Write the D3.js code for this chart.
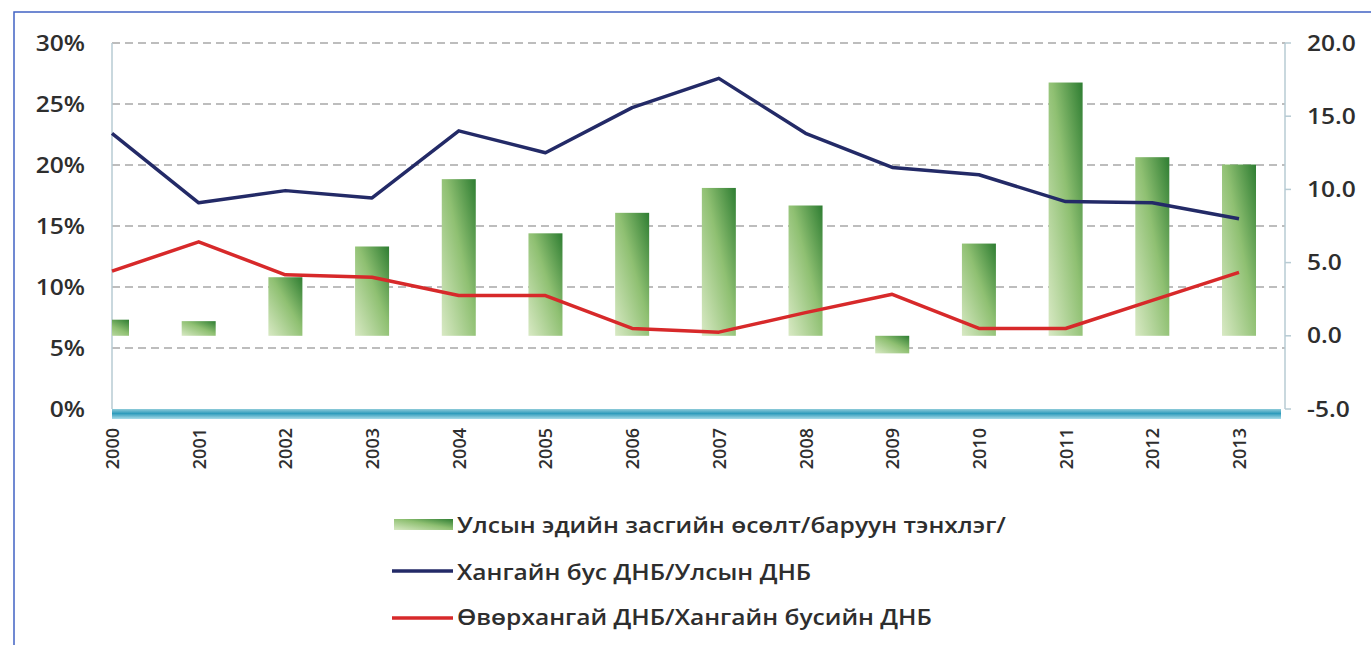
<!DOCTYPE html>
<html>
<head>
<meta charset="utf-8">
<script src="https://cdn.jsdelivr.net/npm/d3@7"></script>
<style>
  body { margin: 0; background: #fff; }
  svg text { font-family: "Open Sans", sans-serif; fill: #2e2e2e; }
</style>
</head>
<body>
<svg width="1371" height="645"></svg>
<script>
const years = ["2000","2001","2002","2003","2004","2005","2006","2007","2008","2009","2010","2011","2012","2013"];
// bars, right axis
const growth = [1.1, 1.0, 4.0, 6.1, 10.7, 7.0, 8.4, 10.1, 8.9, -1.2, 6.3, 17.3, 12.2, 11.7];
// lines, left axis (%)
const nonMiningShare = [22.6, 16.9, 17.9, 17.3, 22.8, 21.0, 24.7, 27.1, 22.6, 19.8, 19.2, 17.0, 16.9, 15.6];
const ovorShare = [11.3, 13.7, 11.0, 10.8, 9.3, 9.3, 6.6, 6.3, 7.9, 9.4, 6.6, 6.6, 8.9, 11.2];
const leftTicks = [0, 5, 10, 15, 20, 25, 30];
const rightTicks = [-5, 0, 5, 10, 15, 20];
const legendLabels = [
  "Улсын эдийн засгийн өсөлт/баруун тэнхлэг/",
  "Хангайн бус ДНБ/Улсын ДНБ",
  "Өвөрхангай ДНБ/Хангайн бусийн ДНБ"
];

const svg = d3.select("svg");
const plotL = 112, plotR = 1285, plotT = 43, plotB = 409;
const stretch = 1.17; // the source text is drawn a bit wide

const x = d3.scalePoint().domain(years).range([112, 1239]);
const yL = d3.scaleLinear().domain([0, 30]).range([plotB, plotT]);
const yR = d3.scaleLinear().domain([-5, 20]).range([plotB, plotT]);

const defs = svg.append("defs");
const gBar = defs.append("linearGradient").attr("id", "barGrad")
    .attr("x1", 0).attr("y1", 1).attr("x2", 1).attr("y2", 0);
gBar.append("stop").attr("offset", "0%").attr("stop-color", "#d8e9c4");
gBar.append("stop").attr("offset", "55%").attr("stop-color", "#8fc072");
gBar.append("stop").attr("offset", "100%").attr("stop-color", "#2e7d32");

const gBand = defs.append("linearGradient").attr("id", "bandGrad")
    .attr("x1", 0).attr("y1", 0).attr("x2", 0).attr("y2", 1);
gBand.append("stop").attr("offset", "0%").attr("stop-color", "#8fcbd9");
gBand.append("stop").attr("offset", "45%").attr("stop-color", "#2f9cbc");
gBand.append("stop").attr("offset", "100%").attr("stop-color", "#a9dbe8");

defs.append("clipPath").attr("id", "plotClip")
  .append("rect").attr("x", plotL).attr("y", 0).attr("width", plotR - plotL).attr("height", 645);

// frame
svg.append("path").attr("d", `M14,645 V12 H1371`)
    .attr("fill", "none").attr("stroke", "#4263c4").attr("stroke-width", 1.5);

// gridlines
svg.append("g").selectAll("line")
  .data(leftTicks.filter(d => d > 0))
  .join("line")
    .attr("x1", plotL).attr("x2", plotR)
    .attr("y1", d => yL(d)).attr("y2", d => yL(d))
    .attr("stroke", "#a8a8a8").attr("stroke-width", 1.5)
    .attr("stroke-dasharray", "8,5");

// axis lines
svg.append("line").attr("x1", plotL).attr("x2", plotL).attr("y1", plotT).attr("y2", plotB)
    .attr("stroke", "#b7cbd3").attr("stroke-width", 1.5);
svg.append("line").attr("x1", plotR).attr("x2", plotR).attr("y1", plotT).attr("y2", plotB)
    .attr("stroke", "#b7cbd3").attr("stroke-width", 1.5);
svg.append("g").selectAll("line").data(rightTicks).join("line")
    .attr("x1", plotR).attr("x2", plotR + 6)
    .attr("y1", d => yR(d)).attr("y2", d => yR(d))
    .attr("stroke", "#b7cbd3").attr("stroke-width", 1.5);

// bars
const bw = 34;
svg.append("g").attr("clip-path", "url(#plotClip)")
  .selectAll("rect").data(growth).join("rect")
    .attr("x", (d, i) => x(years[i]) - bw / 2)
    .attr("y", d => yR(Math.max(0, d)))
    .attr("width", bw)
    .attr("height", d => Math.abs(yR(d) - yR(0)))
    .attr("fill", "url(#barGrad)");

// bottom band
svg.append("rect").attr("x", plotL).attr("y", plotB).attr("width", plotR - plotL - 4).attr("height", 10)
    .attr("fill", "url(#bandGrad)");

// lines
const line = d3.line().x((d, i) => x(years[i])).y(d => yL(d));
svg.append("path").datum(nonMiningShare).attr("d", line)
    .attr("fill", "none").attr("stroke", "#232a67").attr("stroke-width", 3.5).attr("stroke-linejoin", "round");
svg.append("path").datum(ovorShare).attr("d", line)
    .attr("fill", "none").attr("stroke", "#d7292a").attr("stroke-width", 3.5).attr("stroke-linejoin", "round");

// left labels
svg.append("g").selectAll("text").data(leftTicks).join("text")
    .attr("transform", d => `translate(85,${yL(d) + 7.5}) scale(${stretch},1)`)
    .attr("text-anchor", "end")
    .style("font-size", "21px").style("font-weight", 600)
    .text(d => d + "%");

// right labels
svg.append("g").selectAll("text").data(rightTicks).join("text")
    .attr("transform", d => `translate(1307,${yR(d) + 7.5}) scale(${stretch},1)`)
    .style("font-size", "21px").style("font-weight", 600)
    .text(d => d.toFixed(1));

// year labels
svg.append("g").selectAll("text").data(years).join("text")
    .attr("transform", d => `translate(${x(d) + 7},428) rotate(-90)`)
    .attr("text-anchor", "end")
    .style("font-size", "18px").style("font-weight", 600)
    .text(d => d);

// legend
const lg = svg.append("g");
lg.append("rect").attr("x", 394).attr("y", 519).attr("width", 59).attr("height", 11)
    .attr("fill", "url(#barGrad)");
lg.append("line").attr("x1", 392).attr("x2", 453).attr("y1", 571).attr("y2", 571)
    .attr("stroke", "#232a67").attr("stroke-width", 3.5);
lg.append("line").attr("x1", 392).attr("x2", 453).attr("y1", 618).attr("y2", 618)
    .attr("stroke", "#d7292a").attr("stroke-width", 3.5);
const lgY = [533, 580, 625];
lg.selectAll("text").data(legendLabels).join("text")
    .attr("transform", (d, i) => `translate(457,${lgY[i]}) scale(${stretch},1)`)
    .style("font-size", "21px").style("font-weight", 600)
    .text(d => d);
</script>
</body>
</html>
